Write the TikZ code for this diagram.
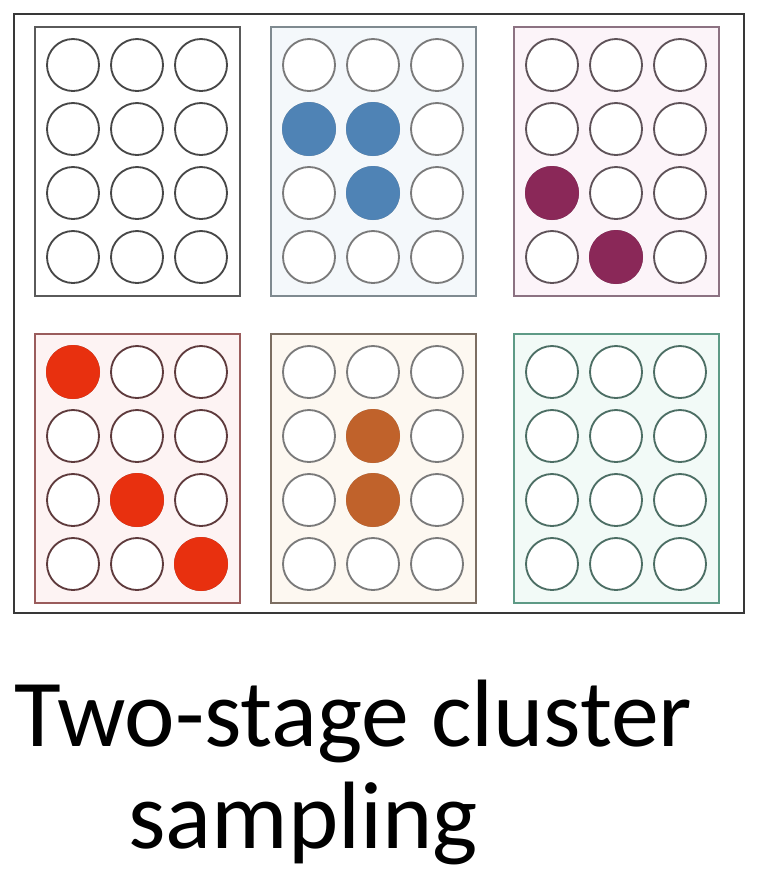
\documentclass[tikz,border=0pt]{standalone}
\usepackage{fontspec}
\setmainfont{Carlito}
\usepackage{tikz}
\usepackage{xcolor}

\definecolor{rahmen}{HTML}{383838}
\definecolor{blaupunkt}{HTML}{4F83B5}
\definecolor{lilapunkt}{HTML}{8A2858}
\definecolor{rotpunkt}{HTML}{E8300F}
\definecolor{braunpunkt}{HTML}{C0622B}
% raender und hintergruende der cluster
\definecolor{randgrau}{HTML}{5A5A5A}
\definecolor{randblau}{HTML}{7F8A90}
\definecolor{randlila}{HTML}{8C7282}
\definecolor{randrot}{HTML}{9A5C5C}
\definecolor{randbraun}{HTML}{7C6E62}
\definecolor{randgruen}{HTML}{5E9A86}
\definecolor{grundblau}{HTML}{F4F8FB}
\definecolor{grundlila}{HTML}{FCF4F9}
\definecolor{grundrot}{HTML}{FDF3F3}
\definecolor{grundbraun}{HTML}{FDF8F1}
\definecolor{grundgruen}{HTML}{F2FAF7}
\definecolor{kreisgrau}{HTML}{474747}
\definecolor{kreishell}{HTML}{7A7A7A}
\definecolor{kreislila}{HTML}{5E5258}
\definecolor{kreisrot}{HTML}{5E3A3C}
\definecolor{kreisgruen}{HTML}{4C6E64}

% ein cluster: x, y, randfarbe, hintergrund, kreisfarbe
\newcommand{\cluster}[5]{%
	\draw[#3, line width=1.4pt, fill=#4] (#1,#2) rectangle ++(205,269);
	\foreach \i in {0,1,2}
		\foreach \j in {0,1,2,3}
			\draw[#5, line width=1.05pt, fill=white] (#1+38+64*\i, #2+38+64*\j) circle (26);
}

\begin{document}
\begin{tikzpicture}[x=0.02cm, y=-0.02cm]
	\useasboundingbox (0,0) rectangle (758,876);
	% aeusserer rahmen
	\draw[rahmen, line width=1.3pt] (14,14) rectangle (744,613);
	% obere reihe
	\cluster{35}{27}{randgrau}{white}{kreisgrau}
	\cluster{271}{27}{randblau}{grundblau}{kreishell}
	\cluster{514}{27}{randlila}{grundlila}{kreislila}
	% untere reihe
	\cluster{35}{334}{randrot}{grundrot}{kreisrot}
	\cluster{271}{334}{randbraun}{grundbraun}{kreishell}
	\cluster{514}{334}{randgruen}{grundgruen}{kreisgruen}
	% gezogene elemente, oben mitte
	\fill[blaupunkt] (271+38, 27+102) circle (27);
	\fill[blaupunkt] (271+102, 27+102) circle (27);
	\fill[blaupunkt] (271+102, 27+166) circle (27);
	% oben rechts
	\fill[lilapunkt] (514+38, 27+166) circle (27);
	\fill[lilapunkt] (514+102, 27+230) circle (27);
	% unten links
	\fill[rotpunkt] (35+38, 334+38) circle (27);
	\fill[rotpunkt] (35+102, 334+166) circle (27);
	\fill[rotpunkt] (35+166, 334+230) circle (27);
	% unten mitte
	\fill[braunpunkt] (271+102, 334+102) circle (27);
	\fill[braunpunkt] (271+102, 334+166) circle (27);
	% beschriftung
	\node[anchor=base west, inner sep=0pt, font=\fontsize{54.5}{60}\selectfont] (zeile1) at (14,746) {Two-stage cluster};
	\node[anchor=base west, inner sep=0pt, font=\fontsize{54.5}{60}\selectfont] (zeile2) at (128,848) {sampling};
\end{tikzpicture}
\end{document}
